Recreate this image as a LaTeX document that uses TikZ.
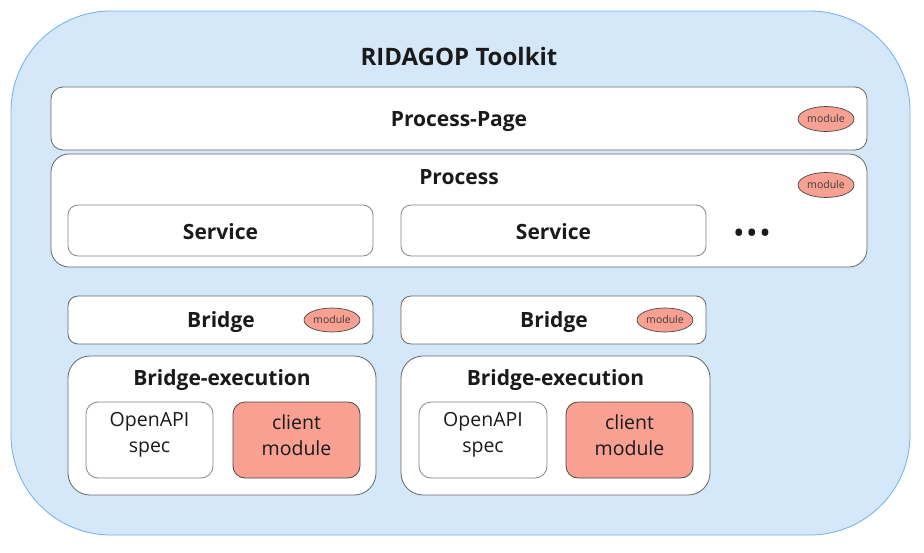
\documentclass[tikz,border=0pt]{standalone}
\usepackage{fontspec}
\setmainfont{Open Sans}
\usetikzlibrary{shapes.geometric}
\definecolor{outerfill}{HTML}{D4E8F9}
\definecolor{outerline}{HTML}{6FB0F0}
\definecolor{boxline}{HTML}{666666}
\definecolor{salmon}{HTML}{F8A192}
\definecolor{txt}{HTML}{1A1A1A}
\begin{document}
\begin{tikzpicture}[x=1pt,y=-1pt,
  box/.style={draw=boxline, fill=white, line width=0.8pt},
  modell/.style={ellipse, draw=txt!80, fill=salmon, line width=0.7pt, minimum width=56pt, minimum height=25pt, inner sep=0pt, font=\fontsize{10.5}{12}\selectfont, text=txt!85},
  title/.style={font=\fontsize{21}{24}\selectfont\bfseries, text=txt},
  body/.style={font=\fontsize{19.5}{26}\selectfont, text=txt, align=center}]
\useasboundingbox (0,0) rectangle (924,552);
% outer
\draw[fill=outerfill, draw=outerline, line width=0.8pt, rounded corners=100pt] (11,11) rectangle (910,535);
\node[title, font=\fontsize{24}{28}\selectfont\bfseries] (tk) at (459,56) {RIDAGOP Toolkit};
% Process-Page
\draw[box, rounded corners=12pt] (51,87) rectangle (867,150);
\node[title] (pp) at (459,121.5) {Process-Page};
\node[modell] (m1) at (826,119) {module};
% Process
\draw[box, rounded corners=18pt] (51,154) rectangle (867,267);
\node[title] (pr) at (459,177) {Process};
\node[modell] (m2) at (826,185) {module};
\draw[box, draw=boxline!80, rounded corners=10pt] (68,205) rectangle (373,256);
\node[title] (s1) at (220.5,232) {Service};
\draw[box, draw=boxline!80, rounded corners=10pt] (401,205) rectangle (706,256);
\node[title] (s2) at (553.5,232) {Service};
\node[font=\fontsize{24}{28}\selectfont\bfseries, text=txt] (dots) at (752,235) {\textbullet\,\textbullet\,\textbullet};
% Bridges
\foreach \dx/\n in {0/a,333/b}{
  \draw[box, rounded corners=10pt] (68+\dx,296) rectangle (373+\dx,344);
  \node[title] (br\n) at (221+\dx,322.5) {Bridge};
  \node[modell, minimum width=56pt, minimum height=24pt] (bm\n) at (332+\dx,320) {module};
}
\draw[box, rounded corners=22pt] (68,356) rectangle (376,495);
\node[title] (bea) at (222,380.5) {Bridge-execution};
\draw[box, draw=boxline!80, rounded corners=12pt] (86,402) rectangle (213,478);
\node[body] (oa) at (149.5,435) {OpenAPI\\spec};
\draw[box, fill=salmon, draw=txt!80, rounded corners=12pt] (233,402) rectangle (360,478);
\node[body] (ca) at (296.5,435) {client\\module};
\draw[box, rounded corners=22pt] (401,356) rectangle (710,495);
\node[title] (beb) at (555.5,380.5) {Bridge-execution};
\draw[box, draw=boxline!80, rounded corners=12pt] (419,402) rectangle (547,478);
\node[body] (ob) at (483,435) {OpenAPI\\spec};
\draw[box, fill=salmon, draw=txt!80, rounded corners=12pt] (566,402) rectangle (693,478);
\node[body] (cb) at (629.5,435) {client\\module};
\end{tikzpicture}
\end{document}
